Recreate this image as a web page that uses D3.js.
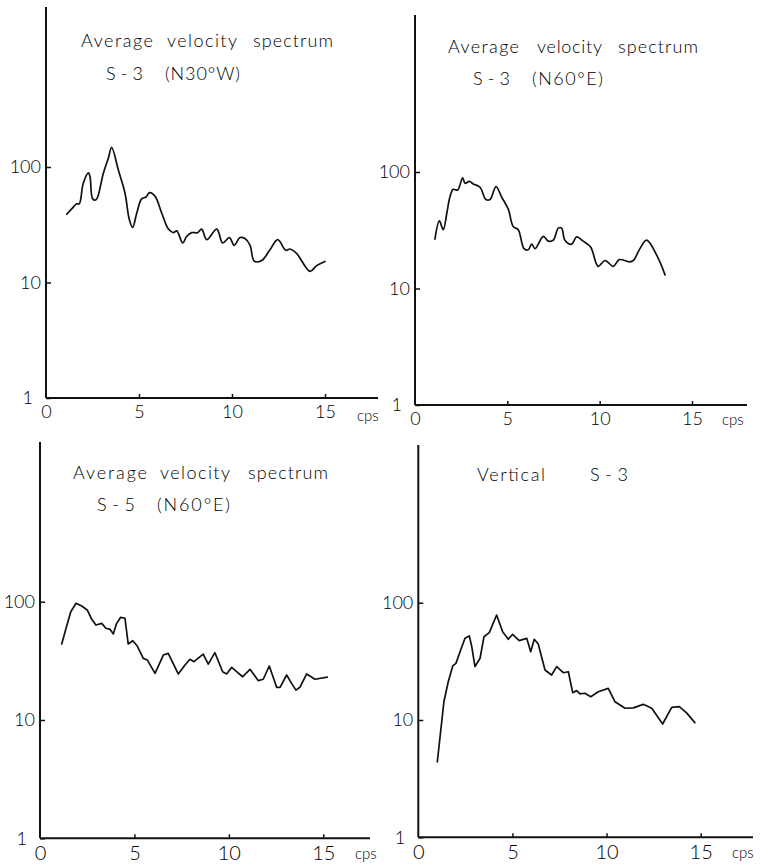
<!DOCTYPE html>
<html>
<head>
<meta charset="utf-8">
<script src="https://cdn.jsdelivr.net/npm/d3@7"></script>
<style>
  html, body { margin: 0; padding: 0; background: #fff; }
  svg text { font-family: Lato, "Open Sans", "DejaVu Sans", sans-serif; font-weight: 300; fill: #000; }
</style>
</head>
<body>
<svg id="chart" width="760" height="866"></svg>
<script>
// ---- Spectra: frequency (cps) and average velocity amplitude ----
const freqS3N30W = [1.11,1.47,1.65,1.79,2.0,2.28,2.37,2.51,2.69,2.81,3.08,3.35,3.53,3.89,4.25,4.48,4.66,4.88,5.14,5.38,5.56,5.86,6.22,6.58,6.85,7.03,7.35,7.56,7.83,8.14,8.37,8.64,9.18,9.5,9.86,10.12,10.43,10.7,10.97,11.2,11.6,12.04,12.46,12.89,13.12,13.48,14.19,14.55,15.0];
const ampS3N30W  = [39,45,48,48,72,89,82,53,52,57,88,119,148,94,59,35,30,40,53,55,60,56,40,29,27,28,22,25,27,27,29,23.5,29,22,24.5,21,24.5,24,21,15.3,15.5,19.2,23.5,19,19.5,17.8,12.5,14,15.2];

const freqS3N60E = [1.08,1.32,1.53,1.72,1.89,2.07,2.31,2.58,2.71,2.94,3.16,3.52,3.84,4.06,4.39,4.69,5.05,5.32,5.59,5.90,6.13,6.32,6.50,6.95,7.22,7.49,7.76,7.94,8.12,8.48,8.75,9.11,9.51,9.92,10.29,10.74,11.06,11.64,11.83,12.18,12.54,13.12,13.54];
const ampS3N60E  = [26.5,38,32,44,61,71,70,89,80,83,79,74,58,58,75,61,48,34,32,22,21.5,24,22,28,25.5,26,33,33,26,24,27.7,25.5,22.7,15.5,17.4,15.5,17.7,16.9,17.4,22,26,18.9,13.1];

const freqS5N60E = [1.15,1.38,1.63,1.91,2.21,2.50,2.74,2.96,3.27,3.49,3.71,3.88,4.06,4.27,4.50,4.67,4.91,5.15,5.47,5.68,6.09,6.53,6.79,7.32,7.68,7.94,8.15,8.64,8.91,9.26,9.67,9.88,10.15,10.41,10.73,11.12,11.56,11.82,12.14,12.53,12.71,13.06,13.32,13.55,13.76,14.12,14.56,15.21];
const ampS5N60E  = [43.9,59.6,82.3,96.9,92,85.1,71,63.5,65.6,59.6,58.4,53.4,65.6,73.8,72.4,43.9,46.8,42.2,33.2,32.2,24.8,35.4,36.6,24.5,29.2,32.6,31.1,36.1,29.7,37.1,25.6,24.5,27.9,25.6,23.2,26.8,21.5,22.1,28.6,18.9,18.9,24,20.4,17.9,18.9,24.5,22.1,23];

const freqVertS3 = [1.01,1.36,1.59,1.83,2.0,2.25,2.48,2.71,2.84,3.01,3.28,3.49,3.77,4.16,4.48,4.78,5.01,5.36,5.76,5.97,6.16,6.37,6.73,7.08,7.35,7.7,7.97,8.2,8.41,8.59,8.85,9.16,9.56,10.09,10.45,10.98,11.42,11.95,12.4,12.98,13.46,13.86,14.25,14.69];
const ampVertS3  = [4.4,14.3,21.2,28.9,30.4,39.5,49.7,52,42.2,28.5,33.6,51.3,55.5,78.5,56.6,48.8,53.8,47.5,49.7,38.2,48.8,44.5,26.7,24.2,28.5,25.3,25.8,17.1,17.8,16.7,16.9,15.8,17.4,18.6,14.3,12.6,12.7,13.6,12.6,9.25,12.8,13.0,11.5,9.5];

// ---- Ticks and labels ----
const xTickValues = [0, 5, 10, 15];
const xTickLabels = ["0", "5", "10", "15"];
const yTickValues = [1, 10, 100];
const yTickLabels = ["1", "10", "100"];
const xUnitLabel = "cps";

const titleS3N30W = [["Average", "velocity", "spectrum"], ["S-3", "(N30°W)"]];
const titleS3N60E = [["Average", "velocity", "spectrum"], ["S-3", "(N60°E)"]];
const titleS5N60E = [["Average", "velocity", "spectrum"], ["S-5", "(N60°E)"]];
const titleVertS3 = [["Vertical", "S-3"]];

// ---- Panel layout (pixel frame of each small plot) ----
const panels = [
  { freq: freqS3N30W, amp: ampS3N30W, title: titleS3N30W,
    xLeft: 46, xRight15: 325, yBottom: 398, yTop100: 167, axisTop: 7, axisEnd: 378,
    words: [[[81, 72], [167, 70], [253, 80]], [[106, 37], [165, 75]]], baselines: [47, 80],
    tickFont: 18, labelDrop: 20, unitPos: [357, 421], smooth: true },
  { freq: freqS3N60E, amp: ampS3N60E, title: titleS3N60E,
    xLeft: 415, xRight15: 692, yBottom: 405, yTop100: 172, axisTop: 15, axisEnd: 747,
    words: [[[448, 71], [537, 65], [618, 80]], [[473, 37], [532, 71]]], baselines: [53, 85],
    tickFont: 18, labelDrop: 20, unitPos: [722, 425], smooth: true },
  { freq: freqS5N60E, amp: ampS5N60E, title: titleS5N60E,
    xLeft: 40, xRight15: 323.3, yBottom: 838.3, yTop100: 601.7, axisTop: 442, axisEnd: 370,
    words: [[[73, 74], [160, 70], [248, 80]], [[97, 38], [157, 73]]], baselines: [479, 511],
    tickFont: 20, labelDrop: 22, unitPos: [355, 859], smooth: false },
  { freq: freqVertS3, amp: ampVertS3, title: titleVertS3,
    xLeft: 418.3, xRight15: 700.7, yBottom: 837.3, yTop100: 602.7, axisTop: 445, axisEnd: 753,
    words: [[[477, 68], [590, 38]]], baselines: [481],
    tickFont: 20, labelDrop: 22, unitPos: [732, 858], smooth: false }
];

const svg = d3.select("#chart");
svg.append("rect").attr("width", 760).attr("height", 866).attr("fill", "#fff");

panels.forEach(p => {
  const g = svg.append("g");
  const x = d3.scaleLinear().domain([0, 15]).range([p.xLeft, p.xRight15]);
  const y = d3.scaleLog().domain([1, 100]).range([p.yBottom, p.yTop100]);

  // axis lines
  g.append("line")
    .attr("x1", x(0)).attr("x2", x(0)).attr("y1", y(1)).attr("y2", p.axisTop)
    .attr("stroke", "#111").attr("stroke-width", 2);
  g.append("line")
    .attr("x1", x(0)).attr("x2", p.axisEnd).attr("y1", y(1)).attr("y2", y(1))
    .attr("stroke", "#111").attr("stroke-width", 2);

  // y ticks (pointing inward) and labels
  const ya = g.append("g").attr("transform", `translate(${x(0)},0)`)
    .call(d3.axisLeft(y).tickValues(yTickValues)
      .tickFormat((d, i) => yTickLabels[i]).tickSize(-5).tickPadding(5));
  ya.select(".domain").remove();
  ya.selectAll("line").attr("stroke", "#111").attr("stroke-width", 1.5);
  ya.selectAll("text").attr("font-size", 18).attr("fill", "#000")
    .filter(d => d === 1).attr("x", -13);

  // x ticks and labels
  const xa = g.append("g").attr("transform", `translate(0,${y(1)})`)
    .call(d3.axisBottom(x).tickValues(xTickValues)
      .tickFormat((d, i) => xTickLabels[i]).tickSize(-4));
  xa.select(".domain").remove();
  xa.selectAll("line").attr("stroke", "#111").attr("stroke-width", 1.5)
    .filter(d => d === 0).remove();
  xa.selectAll("text").attr("y", p.labelDrop).attr("dy", null)
    .attr("font-size", p.tickFont).attr("fill", "#000");

  g.append("text").attr("x", p.unitPos[0]).attr("y", p.unitPos[1])
    .attr("font-size", 15).text(xUnitLabel);

  // title words
  p.title.forEach((line, li) => {
    line.forEach((word, wi) => {
      const [wx, ww] = p.words[li][wi];
      g.append("text").attr("x", wx).attr("y", p.baselines[li])
        .attr("font-size", 18)
        .attr("textLength", ww).attr("lengthAdjust", "spacing")
        .text(word);
    });
  });

  // spectrum curve
  const pts = p.freq.map((f, i) => [f, p.amp[i]]);
  const line = d3.line().x(d => x(d[0])).y(d => y(d[1]))
    .curve(p.smooth ? d3.curveCatmullRom.alpha(0.5) : d3.curveLinear);
  g.append("path").datum(pts).attr("d", line)
    .attr("fill", "none").attr("stroke", "#111").attr("stroke-width", 1.7)
    .attr("stroke-linejoin", "round").attr("stroke-linecap", "round");
});
</script>
</body>
</html>
